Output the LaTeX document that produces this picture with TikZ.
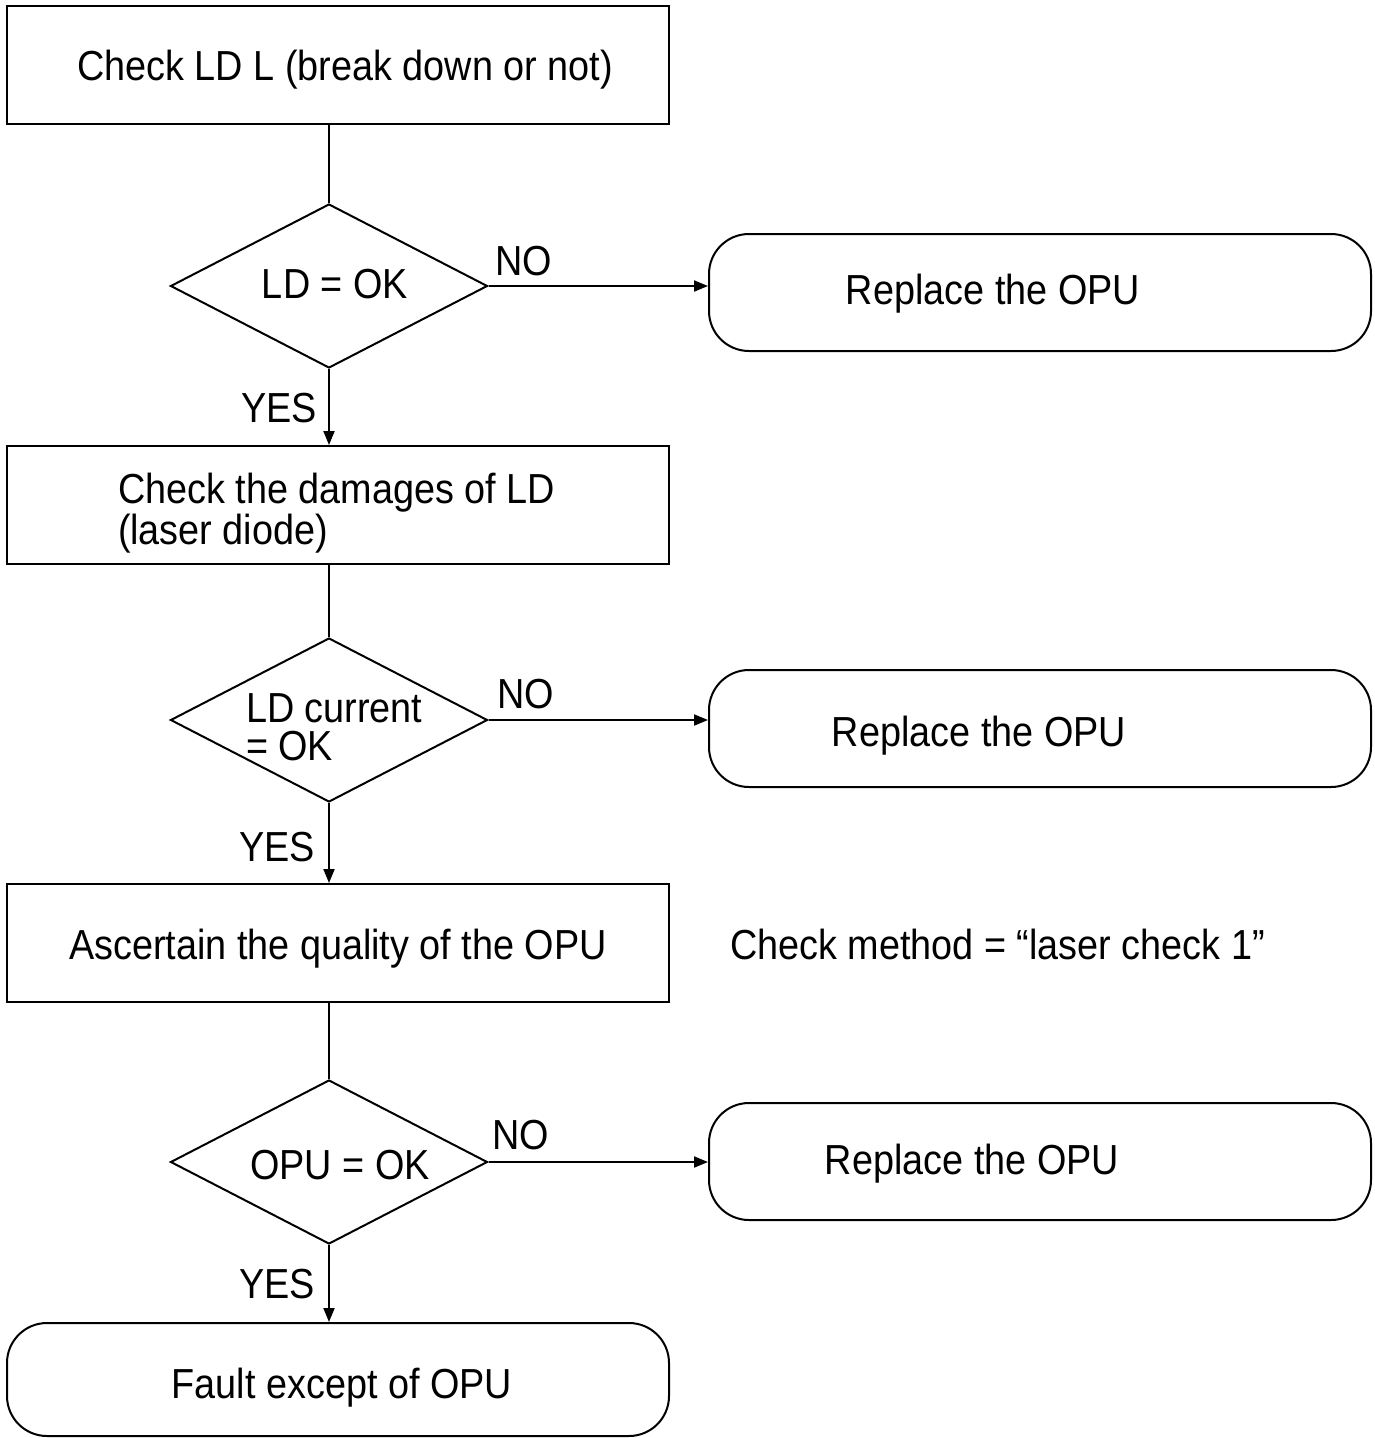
\documentclass[tikz,border=0pt]{standalone}
\usepackage{fontspec}
\setmainfont{Liberation Sans}[FakeStretch=0.9]
\usetikzlibrary{shapes.geometric,arrows.meta}
\begin{document}
\begin{tikzpicture}[x=1pt,y=-1pt,line width=2pt,
 box/.style={draw,rectangle,minimum width=662pt,minimum height=118pt,inner sep=0pt},
 rbox/.style={draw,rectangle,rounded corners=40pt,minimum width=662pt,minimum height=117pt,inner sep=0pt},
 dia/.style={draw,diamond,minimum width=317pt,minimum height=164pt,inner sep=0pt},
 txt/.style={font=\fontsize{42}{48}\selectfont,inner sep=0pt,anchor=base},
 ltxt/.style={txt,anchor=base west},
 arr/.style={-{Triangle[length=14pt,width=11pt]}}]
\useasboundingbox (0,0) rectangle (1374,1438);
% shapes
\node[box] (b1) at (338,65) {};
\node[dia] (d1) at (329,286) {};
\node[rbox] (r1) at (1040,292.5) {};
\node[box] (b2) at (338,505) {};
\node[dia] (d2) at (329,720) {};
\node[rbox] (r2) at (1040,728.5) {};
\node[box] (b3) at (338,943) {};
\node[dia] (d3) at (329,1162) {};
\node[rbox] (r3) at (1040,1161.5) {};
\node[rbox,minimum height=113pt] (r4) at (338,1379.5) {};
% texts
\node[txt] (t1) at (345,80) {Check LD L (break down or not)};
\node[txt] (td1) at (335,298) {LD = OK};
\node[txt] (no1) at (524,275) {NO};
\node[txt] (tr1) at (993,304) {Replace the OPU};
\node[txt] (yes1) at (279,422) {YES};
\node[ltxt] (t2a) at (117,503) {Check the damages of LD};
\node[ltxt] (t2b) at (117,544) {(laser diode)};
\node[ltxt] (td2a) at (245,722) {LD current};
\node[ltxt] (td2b) at (245,760) {= OK};
\node[txt] (no2) at (526,708) {NO};
\node[txt] (tr2) at (979,746) {Replace the OPU};
\node[txt] (yes2) at (277,861) {YES};
\node[txt] (t3) at (338,959) {Ascertain the quality of the OPU};
\node[ltxt] (tm) at (729,959) {Check method = “laser check 1”};
\node[txt] (td3) at (340,1179) {OPU = OK};
\node[txt] (no3) at (521,1149) {NO};
\node[txt] (tr3) at (972,1174) {Replace the OPU};
\node[txt] (yes3) at (277,1298) {YES};
\node[txt] (t4) at (342,1398) {Fault except of OPU};
% connectors
\draw (d1.north |- b1.south) -- (d1.north);
\draw[arr] (d1.east) -- (d1.east -| r1.west);
\draw[arr] (d1.south) -- (d1.south |- b2.north);
\draw (d2.north |- b2.south) -- (d2.north);
\draw[arr] (d2.east) -- (d2.east -| r2.west);
\draw[arr] (d2.south) -- (d2.south |- b3.north);
\draw (d3.north |- b3.south) -- (d3.north);
\draw[arr] (d3.east) -- (d3.east -| r3.west);
\draw[arr] (d3.south) -- (d3.south |- r4.north);
\end{tikzpicture}
\end{document}
